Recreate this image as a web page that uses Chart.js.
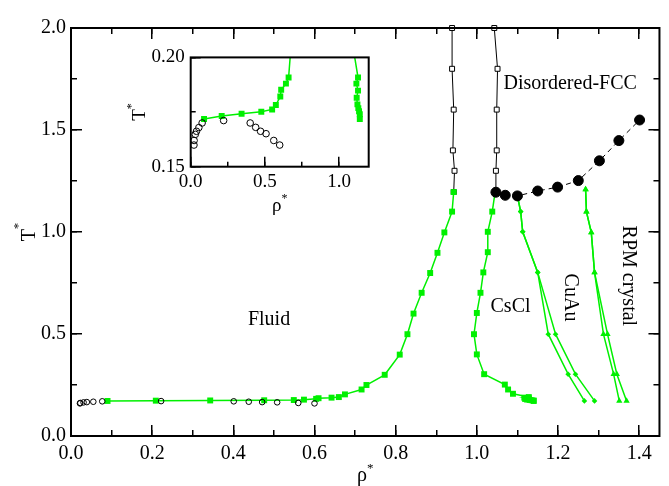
<!DOCTYPE html>
<html>
<head>
<meta charset="utf-8">
<script src="https://cdn.jsdelivr.net/npm/chart.js@4.4.0/dist/chart.umd.min.js"></script>
<style>
  html, body { margin: 0; padding: 0; background: #fff; }
  #wrap { position: relative; width: 669px; height: 486px; }
  #mainChart { position: absolute; left: 0; top: 0; }
  #insetChart { position: absolute; left: 110px; top: 30px; }
</style>
</head>
<body>
<div id="wrap">
  <canvas id="mainChart" width="669" height="486"></canvas>
  <canvas id="insetChart" width="270" height="190"></canvas>
</div>
<script>
// open circles: low temperature coexistence
const glRho = [0.022, 0.023, 0.031, 0.039, 0.055, 0.077, 0.222, 0.401, 0.438, 0.471, 0.508, 0.560, 0.600];
const glT = [0.1599, 0.1620, 0.1648, 0.1662, 0.1679, 0.1700, 0.1711, 0.1700, 0.1680, 0.1662, 0.1651, 0.1620, 0.1599];

// green squares: fluid side of fluid / CsCl coexistence
const fluidRho = [0.090, 0.209, 0.343, 0.476, 0.549, 0.574, 0.604, 0.610, 0.642, 0.660, 0.675, 0.716, 0.728, 0.773, 0.810, 0.829, 0.844, 0.864, 0.885, 0.903, 0.920, 0.939, 0.943];
const fluidT = [0.1718, 0.1732, 0.1742, 0.1751, 0.1762, 0.1782, 0.1821, 0.1852, 0.1880, 0.1908, 0.204, 0.228, 0.250, 0.300, 0.399, 0.499, 0.600, 0.702, 0.799, 0.898, 0.998, 1.100, 1.196];

// green squares: CsCl side
const csclRho = [1.045, 1.038, 1.027, 1.027, 1.016, 1.009, 1.000, 0.993, 1.000, 1.018, 1.069, 1.077, 1.089, 1.128, 1.117, 1.128, 1.119, 1.124, 1.130, 1.135, 1.140, 1.140];
const csclT = [1.195, 1.100, 1.001, 0.901, 0.802, 0.702, 0.603, 0.499, 0.400, 0.303, 0.252, 0.228, 0.207, 0.1908, 0.188, 0.1848, 0.1815, 0.1785, 0.1768, 0.1754, 0.1740, 0.1718];

// open black squares: fluid / disordered-FCC coexistence
const fccT = [1.196, 1.30, 1.40, 1.60, 1.80, 2.00];
const fccLeftRho = [0.943, 0.945, 0.941, 0.943, 0.939, 0.939];
const fccRightRho = [1.045, 1.047, 1.049, 1.049, 1.051, 1.043];

// filled black circles: order-disorder line
const odRho = [1.047, 1.070, 1.100, 1.150, 1.199, 1.250, 1.302, 1.350, 1.401];
const odT = [1.195, 1.180, 1.177, 1.201, 1.220, 1.252, 1.349, 1.448, 1.549];

// green diamonds: CsCl / CuAu
const cuauT = [1.177, 1.100, 1.001, 0.802, 0.499, 0.303, 0.172];
const cuauLeftRho = [1.100, 1.108, 1.113, 1.150, 1.176, 1.225, 1.265];
const cuauRightRho = [1.100, 1.108, 1.113, 1.150, 1.194, 1.243, 1.290];

// green triangles: CuAu / RPM crystal
const rpmT = [1.209, 1.100, 0.998, 0.802, 0.499, 0.303, 0.172];
const rpmLeftRho = [1.268, 1.270, 1.282, 1.290, 1.312, 1.337, 1.351];
const rpmRightRho = [1.268, 1.270, 1.282, 1.290, 1.322, 1.345, 1.369];

const GREEN = "#00f000";
const SERIF = '"Liberation Serif", "Times New Roman", serif';

function pts(xs, ys) {
  return xs.map((x, i) => ({ x, y: ys[i] }));
}

function greenLine(data, style, radius) {
  return {
    data, showLine: true, borderColor: GREEN, borderWidth: 1.5,
    pointStyle: style, pointRadius: radius, pointBackgroundColor: GREEN,
    pointBorderColor: GREEN, pointBorderWidth: 0, clip: false,
  };
}

// text with a raised asterisk, centred on (0,0) of the current transform
function supText(ctx, base, size, supSize, raise) {
  ctx.font = `${size}px ${SERIF}`;
  const wb = ctx.measureText(base).width;
  ctx.font = `${supSize}px ${SERIF}`;
  const ws = ctx.measureText("*").width;
  const x0 = -(wb + ws) / 2;
  ctx.textAlign = "left";
  ctx.textBaseline = "alphabetic";
  ctx.font = `${size}px ${SERIF}`;
  ctx.fillText(base, x0, 0);
  ctx.font = `${supSize}px ${SERIF}`;
  ctx.fillText("*", x0 + wb, -raise);
}

// frame, notes and axis titles
function decor(cfg) {
  return {
    id: "decor",
    afterDraw(chart) {
      const ctx = chart.ctx;
      const a = chart.chartArea;
      const xs = chart.scales.x;
      const ys = chart.scales.y;
      ctx.save();
      ctx.fillStyle = "#000";
      cfg.notes.forEach((n) => {
        ctx.save();
        ctx.translate(xs.getPixelForValue(n.x), ys.getPixelForValue(n.y));
        ctx.rotate(n.rot || 0);
        ctx.font = `${cfg.noteSize}px ${SERIF}`;
        ctx.textAlign = "center";
        ctx.textBaseline = "middle";
        ctx.fillText(n.text, 0, 0);
        ctx.restore();
      });
      const t = cfg.titles;
      ctx.save();
      ctx.translate((a.left + a.right) / 2, a.bottom + t.xTitleOffset);
      supText(ctx, "ρ", t.size, t.supSize, t.xRaise);
      ctx.restore();
      ctx.save();
      ctx.translate(a.left - t.yTitleOffset, (a.top + a.bottom) / 2);
      ctx.rotate(-Math.PI / 2);
      supText(ctx, "T", t.size, t.supSize, t.yRaise);
      ctx.restore();
      ctx.strokeStyle = "#000";
      ctx.lineWidth = cfg.frameWidth;
      ctx.strokeRect(a.left, a.top, a.right - a.left, a.bottom - a.top);
      ctx.restore();
    },
  };
}

// the library's own tick marks, turned inward with a negative tick length
function tickGrid(len) {
  return { display: true, drawOnChartArea: false, drawTicks: true, tickLength: -len, color: "#000", lineWidth: 1.5 };
}

// labelled axis
function labelAxis(pos, min, max, step, digits, size, pad, len, weight, fit) {
  return {
    type: "linear", position: pos, min, max, weight,
    grid: tickGrid(len),
    border: { display: false },
    ticks: {
      stepSize: step, includeBounds: false, padding: pad + len, color: "#000",
      maxRotation: 0, autoSkip: false,
      font: { family: SERIF, size },
      callback: (v) => v.toFixed(digits),
    },
    afterFit: fit,
  };
}

// unlabelled axis that only carries tick marks
function markAxis(pos, min, max, step, len, weight) {
  const flat = pos === "top" || pos === "bottom";
  return {
    type: "linear", position: pos, min, max, weight,
    grid: tickGrid(len),
    border: { display: false },
    ticks: { stepSize: step, includeBounds: false, display: false, autoSkip: false },
    afterFit: (s) => { if (flat) s.height = 0; else s.width = 0; },
  };
}

new Chart(document.getElementById("mainChart"), {
  type: "scatter",
  data: {
    datasets: [
      {
        data: pts(odRho, odT), showLine: true, borderColor: "#000", borderWidth: 1,
        borderDash: [5, 4], pointStyle: "circle", pointRadius: 5,
        pointBackgroundColor: "#000", pointBorderColor: "#000", clip: false,
      },
      {
        data: pts(glRho, glT), showLine: false, pointStyle: "circle", pointRadius: 2.8,
        pointBackgroundColor: "rgba(0,0,0,0)", pointBorderColor: "#000", pointBorderWidth: 1, clip: false,
      },
      greenLine(pts(fluidRho, fluidT), "rect", 4.2),
      greenLine(pts(csclRho, csclT), "rect", 4.2),
      greenLine(pts(cuauLeftRho, cuauT), "rectRot", 2.8),
      greenLine(pts(cuauRightRho, cuauT), "rectRot", 2.8),
      greenLine(pts(rpmLeftRho, rpmT), "triangle", 3.6),
      greenLine(pts(rpmRightRho, rpmT), "triangle", 3.6),
      {
        data: pts(fccLeftRho, fccT), showLine: true, borderColor: "#000", borderWidth: 1,
        pointStyle: "rect", pointRadius: 3.5, pointBackgroundColor: "#fff",
        pointBorderColor: "#000", pointBorderWidth: 1, clip: false,
      },
      {
        data: pts(fccRightRho, fccT), showLine: true, borderColor: "#000", borderWidth: 1,
        pointStyle: "rect", pointRadius: 3.5, pointBackgroundColor: "#fff",
        pointBorderColor: "#000", pointBorderWidth: 1, clip: false,
      },
    ],
  },
  options: {
    responsive: false,
    animation: false,
    layout: { padding: { left: 0, top: 18, right: 2, bottom: 0 } },
    plugins: { legend: { display: false }, tooltip: { enabled: false } },
    scales: {
      x: labelAxis("bottom", 0, 1.45, 0.2, 1, 20, 6, 11, 1, (s) => { s.height = 50; }),
      y: labelAxis("left", 0, 2, 0.5, 1, 20, 5, 11, 1, (s) => { s.width = 71; }),
      xBottomMinor: markAxis("bottom", 0, 1.45, 0.1, 6, 0),
      xTopMajor: markAxis("top", 0, 1.45, 0.2, 11, 0),
      xTopMinor: markAxis("top", 0, 1.45, 0.1, 6, 0),
      yLeftMinor: markAxis("left", 0, 2, 0.25, 6, 0),
      yRightMajor: markAxis("right", 0, 2, 0.5, 11, 0),
      yRightMinor: markAxis("right", 0, 2, 0.25, 6, 0),
    },
  },
  plugins: [
    decor({
      frameWidth: 2,
      noteSize: 20,
      notes: [
        { text: "Fluid", x: 0.488, y: 0.57 },
        { text: "Disordered-FCC", x: 1.230, y: 1.727 },
        { text: "CsCl", x: 1.083, y: 0.636 },
        { text: "CuAu", x: 1.230, y: 0.679, rot: Math.PI / 2 },
        { text: "RPM crystal", x: 1.372, y: 0.785, rot: Math.PI / 2 },
      ],
      titles: { size: 20, supSize: 13, xTitleOffset: 45, xRaise: 9, yTitleOffset: 36, yRaise: 13 },
    }),
  ],
});

new Chart(document.getElementById("insetChart"), {
  type: "scatter",
  data: {
    datasets: [
      {
        data: pts(glRho, glT), showLine: false, pointStyle: "circle", pointRadius: 3.3,
        pointBackgroundColor: "rgba(0,0,0,0)", pointBorderColor: "#000", pointBorderWidth: 1, clip: 0,
      },
      Object.assign(greenLine(pts(fluidRho, fluidT), "rect", 4.2), { clip: 0 }),
      Object.assign(greenLine(pts(csclRho, csclT), "rect", 4.2), { clip: 0 }),
    ],
  },
  options: {
    responsive: false,
    animation: false,
    layout: { padding: { left: 0, top: 18.3, right: 11.3, bottom: 0 } },
    plugins: { legend: { display: false }, tooltip: { enabled: false } },
    scales: {
      x: labelAxis("bottom", 0, 1.2, 0.5, 1, 19, 4, 10, 1, (s) => { s.height = 53.3; }),
      y: labelAxis("left", 0.15, 0.2, 0.05, 2, 19, 6, 10, 1, (s) => { s.width = 80.7; }),
      xBottomMinor: markAxis("bottom", 0, 1.2, 0.25, 5, 0),
      yLeftMinor: markAxis("left", 0.15, 0.2, 0.025, 5, 0),
    },
  },
  plugins: [
    decor({
      frameWidth: 2,
      noteSize: 19,
      notes: [],
      titles: { size: 19, supSize: 12, xTitleOffset: 44, xRaise: 9, yTitleOffset: 46, yRaise: 10 },
    }),
  ],
});
</script>
</body>
</html>
